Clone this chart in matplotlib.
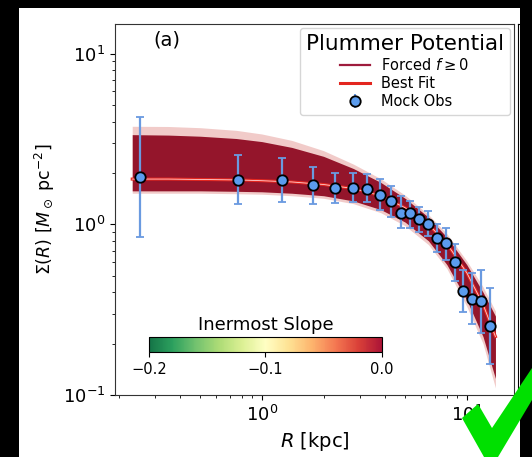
import numpy as np
import matplotlib
matplotlib.use("Agg")
import matplotlib.pyplot as plt
from matplotlib.lines import Line2D
from matplotlib.patches import Rectangle, Polygon
import matplotlib.colors as mcolors
import matplotlib.cm as cm

# ---- data ----
R_obs = [0.254, 0.762, 1.26, 1.78, 2.28, 2.78, 3.26, 3.79, 4.28, 4.77,
         5.28, 5.85, 6.48, 7.17, 7.91, 8.76, 9.63, 10.6, 11.7, 13.0]
sigma_obs = [1.90, 1.82, 1.81, 1.70, 1.64, 1.64, 1.62, 1.49, 1.37, 1.16,
             1.17, 1.07, 1.01, 0.827, 0.773, 0.598, 0.405, 0.365, 0.354, 0.255]
sigma_hi = [4.24, 2.56, 2.45, 2.17, 2.01, 1.99, 1.97, 1.84, 1.68, 1.47,
            1.37, 1.27, 1.20, 1.01, 0.956, 0.763, 0.543, 0.520, 0.543, 0.424]
sigma_lo = [0.846, 1.31, 1.35, 1.32, 1.33, 1.35, 1.35, 1.21, 1.10, 0.947,
            0.956, 0.901, 0.850, 0.688, 0.617, 0.464, 0.305, 0.261, 0.231, 0.151]

# model band envelope (forced f>=0 ensemble) and best fit, read at R_band
R_band = [0.233, 0.35, 0.5, 0.75, 1.0, 1.4, 2.0, 2.8, 3.8, 5.0,
          6.5, 8.0, 10.0, 12.0, 13.8]
band_upper_light = [3.75, 3.74, 3.68, 3.55, 3.38, 3.10, 2.70, 2.25, 1.85, 1.48,
                    1.14, 0.88, 0.61, 0.43, 0.31]
band_upper = [3.35, 3.33, 3.28, 3.18, 3.05, 2.82, 2.50, 2.12, 1.76, 1.42,
              1.10, 0.84, 0.58, 0.40, 0.29]
band_lower = [1.57, 1.57, 1.57, 1.56, 1.55, 1.52, 1.47, 1.37, 1.22, 1.03,
              0.80, 0.58, 0.36, 0.22, 0.125]
band_lower_light = [1.52, 1.52, 1.52, 1.51, 1.50, 1.47, 1.42, 1.32, 1.17, 0.98,
                    0.76, 0.55, 0.33, 0.20, 0.11]
best_fit = [1.84, 1.84, 1.83, 1.82, 1.80, 1.77, 1.71, 1.62, 1.47, 1.25,
            1.00, 0.77, 0.52, 0.34, 0.22]

cbar_ticks = [-0.2, -0.1, 0.0]

# ---- figure ----
W, H = 532, 457
fig = plt.figure(figsize=(W / 100, H / 100), dpi=100, facecolor="black")
fig.patches.append(Rectangle((19 / W, 0), (520 - 19) / W, 1 - 8 / H,
                             transform=fig.transFigure, facecolor="white",
                             edgecolor="none", zorder=-10))

ax = fig.add_axes([115 / W, 1 - 395 / H, (514 - 115) / W, (395 - 24) / H])
ax.set_xscale("log")
ax.set_yscale("log")

ax.fill_between(R_band, band_lower_light, band_upper_light, color="#e9a9a6",
                alpha=0.6, lw=0, zorder=1)
ax.fill_between(R_band, band_lower, band_upper, color="#8f0b22",
                alpha=0.95, lw=0, zorder=2)
ax.plot(R_band, best_fit, color="#e3261f", lw=2.2, zorder=3)
ax.plot(R_band, best_fit, color="#ffd0d0", lw=0.6, zorder=3.5)

lo = np.array(sigma_obs) - np.array(sigma_lo)
hi = np.array(sigma_hi) - np.array(sigma_obs)
ax.errorbar(R_obs, sigma_obs, yerr=[lo, hi], fmt="o", color="#6a9ae0",
            ecolor="#6a9ae0", mfc="#5b9cee", mec="black", mew=1.3, ms=7.5,
            elinewidth=1.6, capsize=3, capthick=1.6, zorder=5)

ax.set_xlim(0.192, 17.0)
ax.set_ylim(0.1, 14.9)
ax.tick_params(labelsize=13)
ax.set_xlabel(r"$R$ [kpc]", fontsize=14)
ax.set_ylabel(r"$\Sigma(R)$ [$M_\odot$ pc$^{-2}$]", fontsize=12.5)
for s in ax.spines.values():
    s.set_color("#333333")
ax.text(0.095, 0.956, "(a)", transform=ax.transAxes, fontsize=14,
        va="center", ha="left")

handles = [
    Line2D([], [], color="#9e1b3c", lw=1.6),
    Line2D([], [], color="#e3261f", lw=2.2),
    ax.errorbar([], [], yerr=[], fmt="o", color="#6a9ae0", mfc="#5b9cee",
                mec="black", mew=1.3, ms=7.5),
]
leg = ax.legend(handles, [r"Forced $f \geq 0$", "Best Fit", "Mock Obs"],
                title="Plummer Potential", title_fontsize=15.5, fontsize=10.5,
                loc="upper right", borderaxespad=0.3, handlelength=2.0,
                labelspacing=0.2, fancybox=True)

# colorbar inset
cax = ax.inset_axes([0.085, 0.116, 0.584, 0.040])
norm = mcolors.Normalize(vmin=-0.2, vmax=0.0)
sm = cm.ScalarMappable(norm=norm, cmap="RdYlGn_r")
cb = fig.colorbar(sm, cax=cax, orientation="horizontal", ticks=cbar_ticks)
cb.solids.set_alpha(0.92)
cb.ax.tick_params(labelsize=10.5)
cb.ax.set_title("Inermost Slope", fontsize=13, pad=5)
cb.outline.set_linewidth(0.8)

# neighbouring panel edge
ax2 = fig.add_axes([518 / W, 1 - 395 / H, 0.2, (395 - 24) / H])
ax2.set_xticks([])
ax2.set_yticks([])
ax2.patch.set_alpha(0)
fig.patches.append(Rectangle((520 / W, 0), 12 / W, 1,
                             transform=fig.transFigure, facecolor="black",
                             edgecolor="none", zorder=5))

# green check mark overlay
check = Polygon([(462 / W, 1 - 418 / H), (478 / W, 1 - 404 / H),
                 (492 / W, 1 - 428 / H), (532 / W, 1 - 368 / H),
                 (532 / W, 1 - 400 / H), (498 / W, 1 - 457 / H),
                 (484 / W, 1 - 457 / H)],
                closed=True, transform=fig.transFigure, facecolor="#00e000",
                edgecolor="none", zorder=20)
fig.patches.append(check)

fig.savefig("out.png", dpi=100, facecolor=fig.get_facecolor())
